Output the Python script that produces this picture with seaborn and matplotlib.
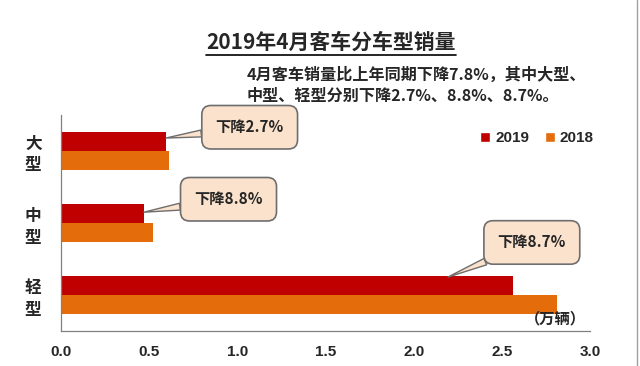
import matplotlib
matplotlib.use("Agg")
import matplotlib.pyplot as plt
import seaborn as sns
import pandas as pd
from matplotlib.lines import Line2D
from matplotlib.patches import Patch

# ---- data (万辆) ----
categories = ["大型", "中型", "轻型"]
sales_2019 = [0.595, 0.47, 2.565]
sales_2018 = [0.61, 0.52, 2.81]
years = ["2019", "2018"]
drop_labels = ["下降2.7%", "下降8.8%", "下降8.7%"]
title = "2019年4月客车分车型销量"
note = "4月客车销量比上年同期下降7.8%，其中大型、\n中型、轻型分别下降2.7%、8.8%、8.7%。"
x_ticks = [0.0, 0.5, 1.0, 1.5, 2.0, 2.5, 3.0]

df = pd.DataFrame({
    "车型": categories * 2,
    "销量": sales_2019 + sales_2018,
    "年份": [years[0]] * 3 + [years[1]] * 3,
})

sns.set_style("white")
plt.rcParams["font.family"] = ["Noto Sans CJK SC", "DejaVu Sans"]
plt.rcParams["font.weight"] = "bold"

red = "#C00000"
orange = "#E46C0A"
beige = "#FBE2CC"
edge = "#6E6E6E"

fig = plt.figure(figsize=(6.4, 3.66), dpi=100)
ax = fig.add_axes([0.0953, 0.0956, 0.8266, 0.5902])

sns.barplot(data=df, y="车型", x="销量", hue="年份", hue_order=years,
            order=categories, palette=[red, orange], orient="h",
            width=0.52, saturation=1, linewidth=0, ax=ax, legend=False)

ax.set_xlim(0, 3.0)
ax.set_ylim(2.5, -0.5)
ax.set_xlabel("")
ax.set_ylabel("")
ax.set_xticks(x_ticks)
ax.set_xticklabels([f"{t:.1f}" for t in x_ticks], fontsize=11, fontweight="bold",
                   family=["Liberation Sans", "DejaVu Sans"])
ax.tick_params(axis="x", direction="in", length=4, width=0.8, color="#808080", pad=10)

# category labels stacked vertically, ticks at group boundaries
ax.set_yticks([0, 1, 2])
ax.set_yticklabels(["\n".join(c) for c in categories], fontsize=12, fontweight="bold",
                   linespacing=1.25)
ax.tick_params(axis="y", length=0, pad=14)
ax.set_yticks([-0.5, 0.5, 1.5, 2.5], minor=True)
ax.tick_params(axis="y", which="minor", direction="in", length=4, width=0.8, color="#808080")

for s in ["top", "right"]:
    ax.spines[s].set_visible(False)
for s in ["left", "bottom"]:
    ax.spines[s].set_color("#808080")
    ax.spines[s].set_linewidth(0.9)

# callouts
box_pos = [(1.07, -0.33), (0.95, 0.67), (2.67, 1.27)]
point_pos = [(sales_2019[0], -0.18), (sales_2019[1], 0.85), (sales_2019[2] - 0.37, 1.75)]
for lab, bp, pp in zip(drop_labels, box_pos, point_pos):
    ax.annotate(lab, xy=pp, xytext=bp, textcoords="data", ha="center", va="center",
                fontsize=11, fontweight="bold",
                bbox=dict(boxstyle="round,pad=0.9,rounding_size=0.6", fc=beige, ec=edge, lw=1.2),
                arrowprops=dict(arrowstyle="wedge,tail_width=0.45,shrink_factor=0.5",
                                fc=beige, ec=edge, lw=1.0, shrinkA=0, shrinkB=0),
                annotation_clip=False, zorder=5)

# legend
handles = [Patch(facecolor=red), Patch(facecolor=orange)]
leg = ax.legend(handles, years, ncol=2, loc="center", frameon=False,
                bbox_to_anchor=(537 / 640, 1 - 138 / 366), bbox_transform=fig.transFigure,
                handlelength=0.65, handleheight=0.65, handletextpad=0.35, columnspacing=1.0,
                prop=dict(size=11, weight="bold", family=["Liberation Sans", "DejaVu Sans"]))

# title with underline
t = fig.text(0.517, 0.885, title, ha="center", va="center", fontsize=15, fontweight="bold")
fig.canvas.draw()
bb = t.get_window_extent().transformed(fig.transFigure.inverted())
fig.add_artist(Line2D([bb.x0, bb.x1], [bb.y0 - 0.006, bb.y0 - 0.006], color="black", lw=1.2))

fig.text(0.386, 0.767, note, ha="left", va="center", fontsize=11.6, fontweight="bold",
         linespacing=1.35)
fig.text(0.867, 0.131, "（万辆）", ha="center", va="center", fontsize=11, fontweight="bold")

# right frame edge
fig.add_artist(Line2D([0.995, 0.995], [0, 1], color="#A0A0A0", lw=1.0))

fig.savefig("out.png", dpi=100)
